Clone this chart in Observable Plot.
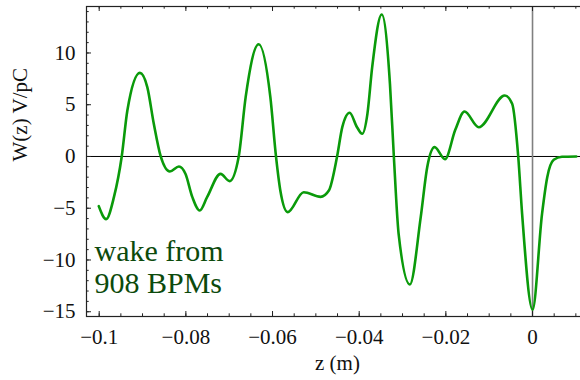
<!DOCTYPE html>
<html><head><meta charset="utf-8">
<script src="https://cdn.jsdelivr.net/npm/d3@7"></script>
<script src="https://cdn.jsdelivr.net/npm/@observablehq/plot@0.6"></script>
<style>body{margin:0;background:#fff} svg{display:block} svg text{font-family:"Liberation Serif",serif !important}</style>
</head><body><div id="chart"></div>
<script>
const z = [-0.1001,-0.0984,-0.0966,-0.0948,-0.0935,-0.0906,-0.0889,-0.0874,-0.0858,
  -0.0837,-0.0816,-0.0801,-0.0785,-0.0768,-0.0751,-0.0720,-0.0699,
  -0.0678,-0.0662,-0.0632,-0.0605,-0.0592,-0.0582,-0.0565,
  -0.0528,-0.0489,-0.0470,-0.0451,-0.0439,-0.0422,-0.0405,
  -0.0393,-0.0381,-0.0370,-0.0348,-0.0329,-0.0320,-0.0309,
  -0.0283,-0.0258,-0.0243,-0.0226,-0.0202,-0.0178,-0.0157,-0.0124,
  -0.0064,-0.0047,-0.0033,-0.0024,0.0000,0.0022,
  0.0034,0.0049,0.0068,0.0101];
const w = [-4.80,-6.05,-3.93,0,4.44,8.08,6.70,3.16,0,
  -1.45,-0.97,-1.67,-3.93,-5.22,-3.93,-1.68,-2.38,
  0,5.73,10.85,5.73,0,-3.29,-5.38,
  -3.45,-3.90,-3.29,0,2.83,4.22,2.83,
  2.19,4.12,8.63,13.72,7.02,0,-7.47,
  -12.37,-5.86,-1.03,0.90,-0.26,2.6,4.35,2.83,
  5.89,5.09,0,-5.54,-14.81,-5.54,
  -2.0,-0.32,-0.03,0];
const xMajor = [-0.1,-0.08,-0.06,-0.04,-0.02,0];
const xMajorLabels = ["−0.1","−0.08","−0.06","−0.04","−0.02","0"];
const xMinor = [-0.1,-0.095,-0.09,-0.085,-0.08,-0.075,-0.07,-0.065,-0.06,-0.055,-0.05,-0.045,-0.04,-0.035,-0.03,-0.025,-0.02,-0.015,-0.01,-0.005,0,0.005,0.01];
const yMajor = [-15,-10,-5,0,5,10];
const yMajorLabels = ["−15","−10","−5","0","5","10"];
const yMinor = [-15,-14,-13,-12,-11,-10,-9,-8,-7,-6,-5,-4,-3,-2,-1,0,1,2,3,4,5,6,7,8,9,10,11,12,13,14];
const xLabel = "z (m)";
const yLabel = "W(z) V/pC";
const note = "wake from\n908 BPMs";

const data = z.map((v, i) => ({z: v, w: w[i]}));
const mT = 6, mB = 64, mL = 86, mR = -8, W = 580, H = 380;
const fh = H - mT - mB, fw = W - mL - mR;
const major = 5, minor = 2.7;
const ff = "Liberation Serif";

const chart = Plot.plot({
  width: W, height: H,
  marginTop: mT, marginBottom: mB, marginLeft: mL, marginRight: mR,
  style: {fontFamily: ff, fontSize: "21px", color: "#111", background: "#fff"},
  x: {domain: [-0.10293, 0.01292]},
  y: {domain: [-15.46, 14.49]},
  marks: [
    Plot.ruleY([0], {stroke: "#000", strokeWidth: 1}),
    Plot.ruleX([0], {stroke: "#808080", strokeWidth: 1.6}),
    Plot.line(data, {x: "z", y: "w", stroke: "#0a9a0a", strokeWidth: 2.6, curve: "monotone-x"}),
    Plot.tickX(xMinor, {x: d => d, insetTop: fh - minor, stroke: "#222"}),
    Plot.tickX(xMajor, {x: d => d, insetTop: fh - major, stroke: "#222"}),
    Plot.tickX(xMinor, {x: d => d, insetBottom: fh - minor, stroke: "#222"}),
    Plot.tickX(xMajor, {x: d => d, insetBottom: fh - major, stroke: "#222"}),
    Plot.tickY(yMinor, {y: d => d, insetRight: fw - minor, stroke: "#222"}),
    Plot.tickY(yMajor, {y: d => d, insetRight: fw - major, stroke: "#222"}),
    Plot.frame({stroke: "#222", strokeWidth: 1.2}),
    Plot.axisX(xMajor, {tickSize: 0, tickPadding: 13, tickFormat: (d, i) => xMajorLabels[i], label: null, fontSize: 21, fontFamily: ff}),
    Plot.axisY(yMajor, {tickSize: 0, tickPadding: 11, tickFormat: (d, i) => yMajorLabels[i], label: null, fontSize: 21, fontFamily: ff}),
    Plot.text([xLabel], {frameAnchor: "bottom", lineAnchor: "bottom", dy: 53, fontSize: 21, fontFamily: ff, fill: "#111"}),
    Plot.text([yLabel], {frameAnchor: "left", rotate: -90, dx: -66, fontSize: 21, fontFamily: ff, fill: "#111"}),
    Plot.text([note], {frameAnchor: "bottom-left", textAnchor: "start", lineAnchor: "bottom", dx: 8, dy: -24, fontSize: 30, fontFamily: ff, lineHeight: 1.05, fill: "#0c4a0c"})
  ]
});
document.getElementById("chart").append(chart);
</script>
</body></html>
